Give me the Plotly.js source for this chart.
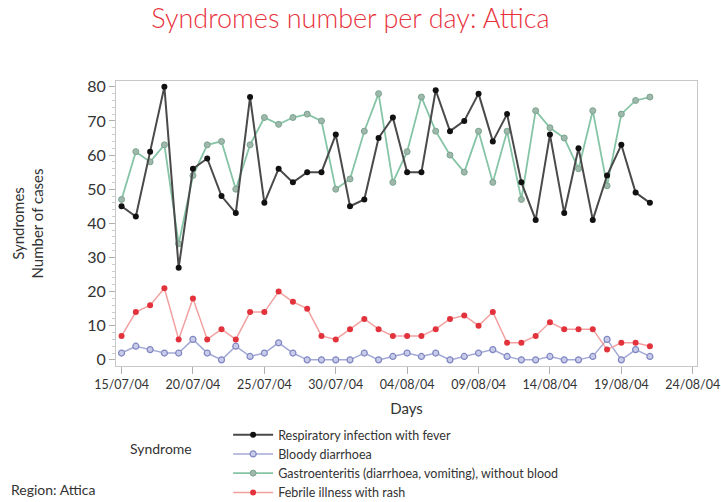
<!DOCTYPE html>
<html>
<head>
<meta charset="utf-8">
<script src="https://cdn.plot.ly/plotly-3.0.1.min.js"></script>
<style>html,body{margin:0;padding:0;background:#fff;}#chart{width:721px;height:502px;}</style>
</head>
<body>
<div id="chart"></div>
<script>
const days = ['2004-07-15','2004-07-16','2004-07-17','2004-07-18','2004-07-19','2004-07-20','2004-07-21','2004-07-22','2004-07-23','2004-07-24',
 '2004-07-25','2004-07-26','2004-07-27','2004-07-28','2004-07-29','2004-07-30','2004-07-31','2004-08-01','2004-08-02','2004-08-03',
 '2004-08-04','2004-08-05','2004-08-06','2004-08-07','2004-08-08','2004-08-09','2004-08-10','2004-08-11','2004-08-12','2004-08-13',
 '2004-08-14','2004-08-15','2004-08-16','2004-08-17','2004-08-18','2004-08-19','2004-08-20','2004-08-21'];
const respiratory = [45,42,61,80,27,56,59,48,43,77, 46,56,52,55,55,66,45,47,65,71, 55,55,79,67,70,78,64,72,52,41, 66,43,62,41,54,63,49,46];
const bloody = [2,4,3,2,2,6,2,0,4,1, 2,5,2,0,0,0,0,2,0,1, 2,1,2,0,1,2,3,1,0,0, 1,0,0,1,6,0,3,1];
const gastro = [47,61,58,63,34,54,63,64,50,63, 71,69,71,72,70,50,53,67,78,52, 61,77,67,60,55,67,52,67,47,73, 68,65,56,73,51,72,76,77];
const febrile = [7,14,16,21,6,18,6,9,6,14, 14,20,17,15,7,6,9,12,9,7, 7,7,9,12,13,10,14,5,5,7, 11,9,9,9,3,5,5,4];
const names = ['Respiratory infection with fever','Bloody diarrhoea','Gastroenteritis (diarrhoea, vomiting), without blood','Febrile illness with rash'];

const traces = [
 {x: days, y: bloody, name: names[1], legendrank: 2, mode: 'lines+markers',
  line: {color: '#a3a9d6', width: 1.5}, marker: {color: '#c9cce8', size: 6, line: {color: '#7f86c2', width: 1.2}}},
 {x: days, y: febrile, name: names[3], legendrank: 4, mode: 'lines+markers',
  line: {color: '#f3a0a0', width: 1.5}, marker: {color: '#e2323c', size: 6}},
 {x: days, y: gastro, name: names[2], legendrank: 3, mode: 'lines+markers',
  line: {color: '#86c4a6', width: 1.8}, marker: {color: '#9fb8ab', size: 6, line: {color: '#7aa58f', width: 1}}},
 {x: days, y: respiratory, name: names[0], legendrank: 1, mode: 'lines+markers',
  line: {color: '#4a4a4a', width: 2}, marker: {color: '#111111', size: 6}}
];

const layout = {
 width: 721, height: 502,
 paper_bgcolor: '#ffffff', plot_bgcolor: '#ffffff',
 font: {family: 'Lato, "Open Sans", sans-serif', color: '#333333', size: 14},
 margin: {l: 116, r: 24, t: 81, b: 136, autoexpand: false},
 title: {text: 'Syndromes number per day: Attica', font: {size: 27, color: '#e8333d', family: 'Lato, sans-serif', weight: 300},
  xref: 'container', yref: 'container', x: 0.486, xanchor: 'center', y: 0.963, yanchor: 'middle'},
 xaxis: {type: 'date', range: ['2004-07-14 14:40', '2004-08-24 07:10'],
  tick0: '2004-07-15', dtick: 5*86400000, tickformat: '%d/%m/%y', ticklabeloverflow: 'allow',
  showgrid: false, zeroline: false, showline: true, linecolor: '#c8c8c8', mirror: true,
  ticks: 'outside', ticklen: 7, tickcolor: '#b0b0b0', tickfont: {size: 12.5, color: '#333'},
  title: {text: 'Days', font: {size: 15, color: '#333'}, standoff: 12}},
 yaxis: {range: [-1.8, 81.7], tickvals: [0,10,20,30,40,50,60,70,80], ticktext: ['0','10','20','30','40','50','60','70','80'],
  showgrid: false, zeroline: false, showline: true, linecolor: '#c8c8c8', mirror: true,
  ticks: 'outside', ticklen: 6, tickcolor: '#b0b0b0', tickfont: {size: 16, color: '#333'},
  minor: {dtick: 2, ticks: 'outside', ticklen: 3, tickcolor: '#cccccc'},
  title: {text: 'Syndromes<br>Number of cases', font: {size: 15, color: '#333'}, standoff: 39}},
 showlegend: true,
 legend: {x: 0.193, xanchor: 'left', y: -0.1895, yanchor: 'top', bgcolor: 'rgba(0,0,0,0)',
  font: {size: 12.5, color: '#333'}, tracegroupgap: 0, itemwidth: 40},
 annotations: [
  {text: 'Syndrome', xref: 'paper', yref: 'paper', x: 0.0207, y: -0.291, xanchor: 'left', yanchor: 'middle', showarrow: false, font: {size: 14, color: '#333'}},
  {text: 'Region: Attica', xref: 'paper', yref: 'paper', x: -0.184, y: -0.435, xanchor: 'left', yanchor: 'middle', showarrow: false, font: {size: 14, color: '#333'}}
 ]
};

Plotly.newPlot('chart', traces, layout, {displayModeBar: false, responsive: false});
</script>
</body>
</html>
